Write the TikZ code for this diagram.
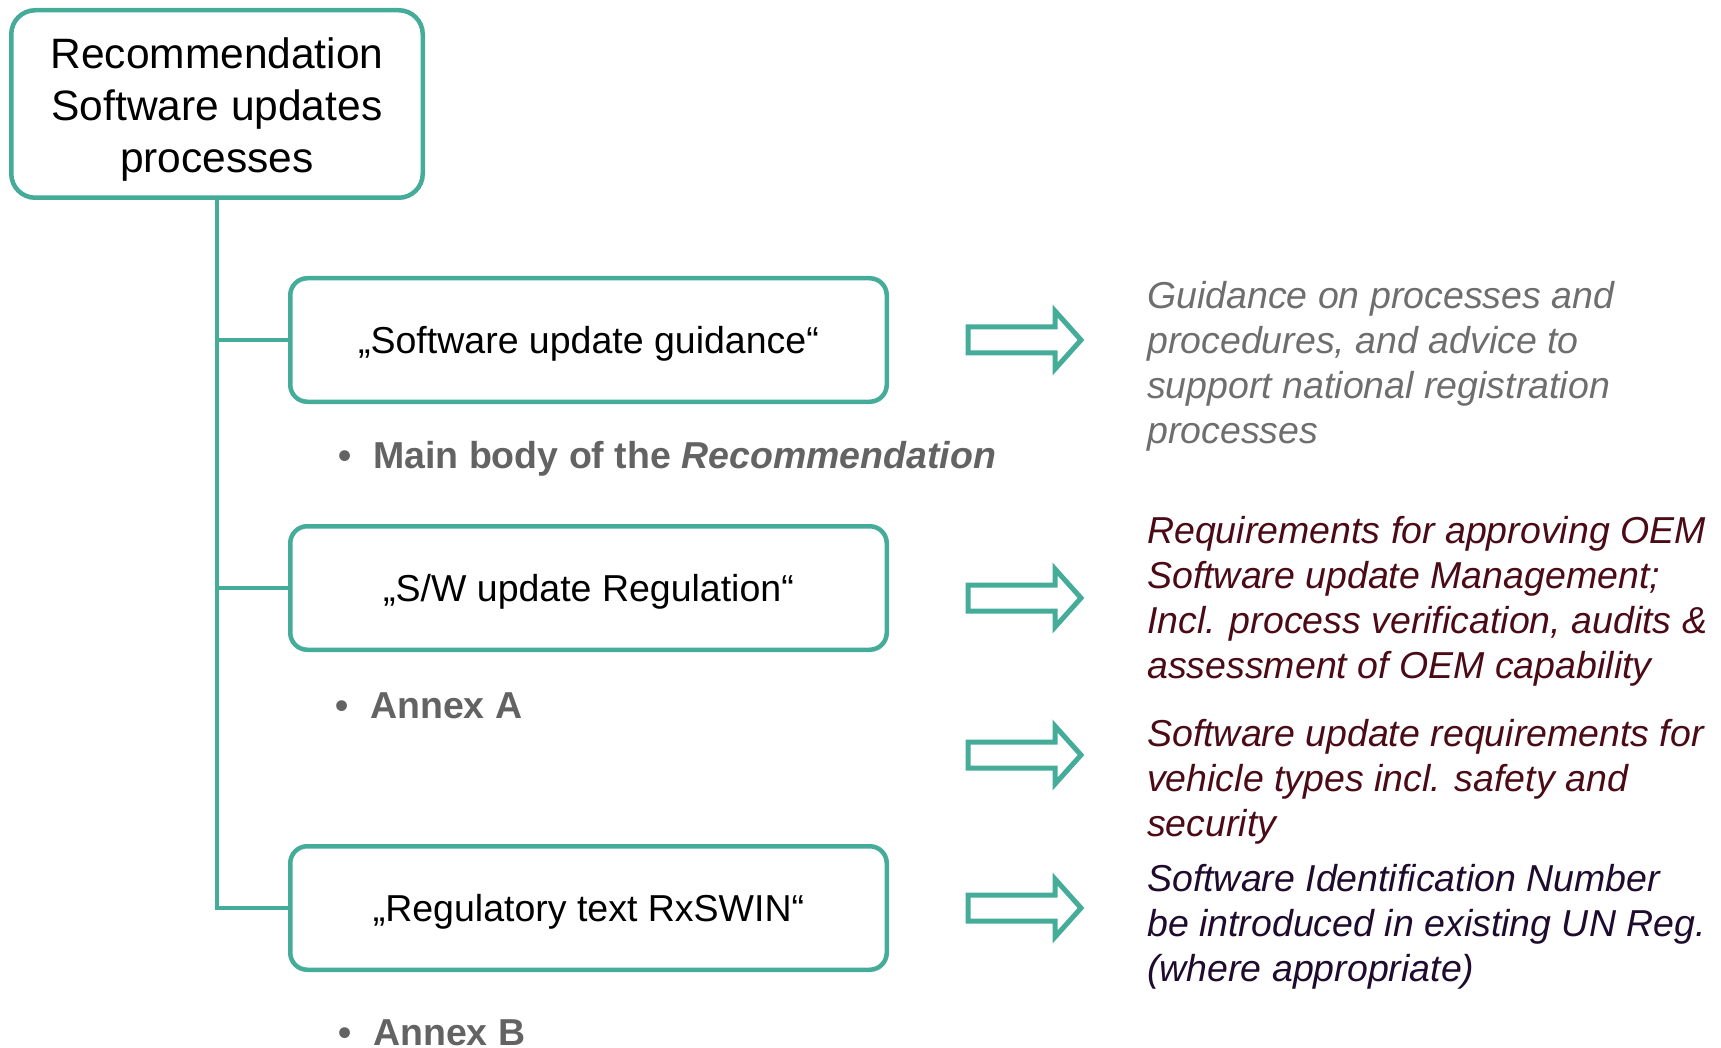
\documentclass[tikz,border=0pt]{standalone}
\usepackage{fontspec}
\setmainfont{Liberation Sans}
\definecolor{tealc}{HTML}{44AC99}
\definecolor{grayb}{HTML}{636363}
\definecolor{grayt}{HTML}{6E6E6E}
\definecolor{redt}{HTML}{4A0B17}
\definecolor{navyt}{HTML}{1E0B2D}
\begin{document}
\begin{tikzpicture}[x=1pt,y=-1pt,
  topbox/.style={draw=tealc, line width=4.5pt, rounded corners=24pt, minimum width=411.5pt, minimum height=187.5pt, inner sep=0pt},
  toptext/.style={align=center, inner sep=0pt, font=\fontsize{42.5}{52}\selectfont},
  box/.style={draw=tealc, line width=4.5pt, rounded corners=17pt, minimum width=596.5pt, minimum height=123.5pt, inner sep=0pt, text height=27pt, text depth=0pt, font=\fontsize{37.5}{45}\selectfont},
  conn/.style={draw=tealc, line width=4.5pt},
  bul/.style={anchor=base west, inner sep=0pt, text=grayb, font=\bfseries\fontsize{37.5}{45}\selectfont},
  rt/.style={anchor=base west, align=left, inner sep=0pt, font=\itshape\fontsize{37.5}{45}\selectfont},
  harrow/.pic={\draw[tealc, line width=5pt, miter limit=10] (-56.5,-13) -- (30.5,-13) -- (30.5,-29) -- (56.5,0) -- (30.5,29) -- (30.5,13) -- (-56.5,13) -- cycle;}
]
\useasboundingbox (0,0) rectangle (1721,1048);

\node[topbox] (top) at (217,104) {};
\node[toptext] (toptxt) at (217,110) {Recommendation\\Software updates\\processes};

\node[box] (b1) at (588.5,340) {„Software update guidance“};
\node[box] (b2) at (588.5,588) {„S/W update Regulation“};
\node[box] (b3) at (588.5,908) {„Regulatory text RxSWIN“};

\draw[conn] (top.south) -- (top.south |- b3.west) -- (b3.west);
\draw[conn] (top.south |- b1.west) -- (b1.west);
\draw[conn] (top.south |- b2.west) -- (b2.west);

\node[bul] (m1) at (338,468) {\makebox[35pt][l]{•}Main body of the \textit{Recommendation}};
\node[bul] (m2) at (335,718) {\makebox[35pt][l]{•}Annex A};
\node[bul] (m3) at (338,1045) {\makebox[35pt][l]{•}Annex B};

\pic at (1024.5,340) {harrow};
\pic at (1024.5,598) {harrow};
\pic at (1024.5,755) {harrow};
\pic at (1024.5,908) {harrow};

\node[rt, text=grayt] (g1) at (1147,443) {Guidance on processes and\\procedures, and advice to\\support national registration\\processes};
\node[rt, text=redt] (g2) at (1147,678) {Requirements for approving OEM\\Software update Management;\\Incl. process verification, audits \&\\assessment of OEM capability};
\node[rt, text=redt] (g3) at (1147,836) {Software update requirements for\\vehicle types incl. safety and\\security};
\node[rt, text=navyt] (g4) at (1147,981) {Software Identification Number\\be introduced in existing UN Reg.\\(where appropriate)};
\end{tikzpicture}
\end{document}
